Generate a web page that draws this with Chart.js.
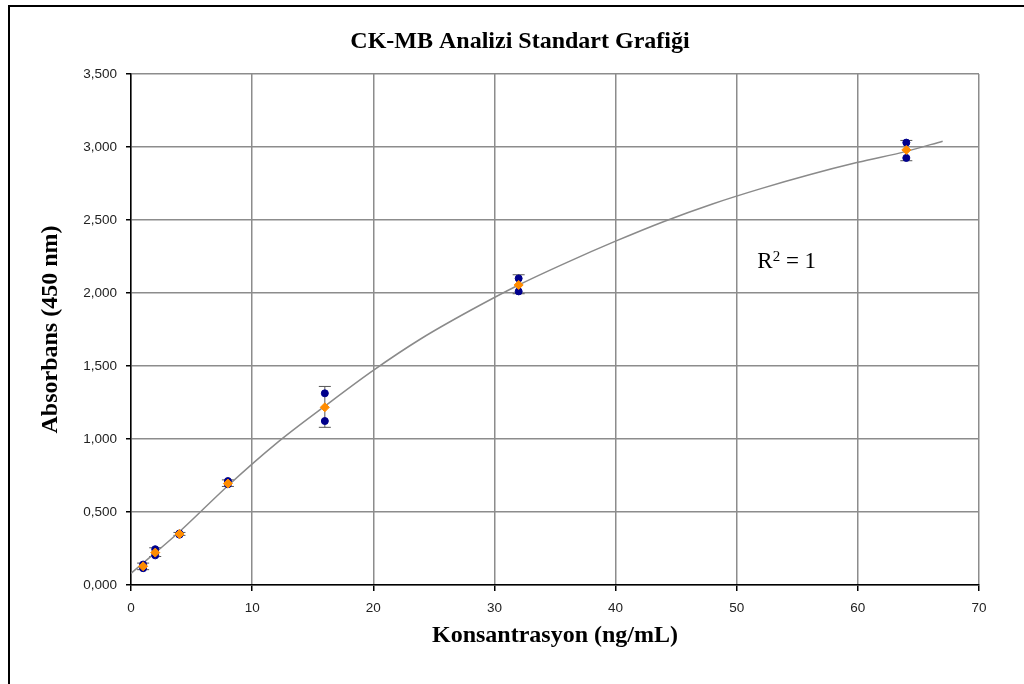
<!DOCTYPE html>
<html>
  <head>
    <meta charset="utf-8" />
    <title>CK-MB Analizi Standart Grafiği</title>
    <script src="https://cdn.jsdelivr.net/npm/chart.js"></script>
    <style>
      body { margin: 0; background: #fff; }
    </style>
  </head>
  <body>
    <canvas id="myChart" width="1024" height="684"></canvas>
    <script>
      // standart konsantrasyonlar (ng/mL)
      const konsantrasyon = [1, 2, 4, 8, 16, 32, 64];
      // iki tekrar okuma (mavi) ve ortalama (turuncu)
      const tekrar1 = [0.115, 0.203, 0.345, 0.69, 1.123, 2.011, 2.925];
      const tekrar2 = [0.14, 0.245, 0.353, 0.712, 1.313, 2.1, 3.03];
      const ortalama = [0.128, 0.222, 0.349, 0.695, 1.217, 2.055, 2.98];
      // hata cubuklari
      const hataAlt = [0.105, 0.195, 0.34, 0.675, 1.08, 1.995, 2.906];
      const hataUst = [0.15, 0.255, 0.36, 0.72, 1.36, 2.125, 3.045];
      // egri (trend line), resimden okunan noktalar
      const egriX = [0, 4, 8, 12, 16, 20, 24, 28, 32, 36, 40, 44, 48, 52, 56, 60, 64, 67];
      const egriY = [0.08, 0.365, 0.68, 0.97, 1.225, 1.47, 1.69, 1.88, 2.055, 2.21, 2.355, 2.49, 2.61, 2.715, 2.81, 2.895, 2.97, 3.04];

      const pts = (xs, ys) => xs.map((v, i) => ({ x: v, y: ys[i] }));

      const errorBars = {
        id: "errorBars",
        beforeDatasetsDraw(chart) {
          const { ctx } = chart;
          const x = chart.scales.x, y = chart.scales.y;
          ctx.save();
          ctx.strokeStyle = "#555";
          ctx.lineWidth = 1;
          konsantrasyon.forEach((k, i) => {
            const px = x.getPixelForValue(k);
            const top = y.getPixelForValue(hataUst[i]);
            const bot = y.getPixelForValue(hataAlt[i]);
            ctx.beginPath();
            ctx.moveTo(px, top); ctx.lineTo(px, bot);
            ctx.moveTo(px - 6, top); ctx.lineTo(px + 6, top);
            ctx.moveTo(px - 6, bot); ctx.lineTo(px + 6, bot);
            ctx.stroke();
          });
          ctx.restore();
        },
      };

      const frameAndText = {
        id: "frameAndText",
        beforeDraw(chart) {
          const { ctx } = chart;
          ctx.save();
          ctx.fillStyle = "#fff";
          ctx.fillRect(0, 0, chart.width, chart.height);
          ctx.strokeStyle = "#000";
          ctx.lineWidth = 2;
          ctx.strokeRect(9, 6, chart.width + 20, chart.height + 20);
          ctx.restore();
        },
        afterDraw(chart) {
          const { ctx } = chart;
          const x = chart.scales.x, y = chart.scales.y;
          ctx.save();
          ctx.fillStyle = "#000";
          ctx.textAlign = "center";
          ctx.textBaseline = "middle";
          ctx.font = "bold 24px 'Liberation Serif'";
          ctx.fillText("CK-MB Analizi Standart Grafiği", 520, 42);

          // R kare etiketi
          ctx.textAlign = "left";
          ctx.textBaseline = "alphabetic";
          let px = x.getPixelForValue(51.7);
          const py = y.getPixelForValue(2.17);
          ctx.font = "23px 'Liberation Serif'";
          ctx.fillText("R", px, py);
          px += ctx.measureText("R").width;
          ctx.font = "15px 'Liberation Serif'";
          ctx.fillText("2", px, py - 7);
          px += ctx.measureText("2").width;
          ctx.font = "23px 'Liberation Serif'";
          ctx.fillText(" = 1", px, py);
          ctx.restore();
        },
      };

      const serif = (size) => ({ family: "'Liberation Serif'", size: size, weight: "bold" });
      const sans = { family: "'Liberation Sans'", size: 13.5 };

      const config = {
        data: {
          datasets: [
            {
              type: "line",
              label: "egri",
              data: pts(egriX, egriY),
              borderColor: "#8a8a8a",
              borderWidth: 1.5,
              pointRadius: 0,
              cubicInterpolationMode: "monotone",
              order: 4,
            },
            {
              type: "scatter",
              label: "tekrar1",
              data: pts(konsantrasyon, tekrar1),
              backgroundColor: "#00008c",
              borderColor: "#00008c",
              pointRadius: 3.5,
              order: 2,
            },
            {
              type: "scatter",
              label: "tekrar2",
              data: pts(konsantrasyon, tekrar2),
              backgroundColor: "#00008c",
              borderColor: "#00008c",
              pointRadius: 3.5,
              order: 3,
            },
            {
              type: "scatter",
              label: "ortalama",
              data: pts(konsantrasyon, ortalama),
              backgroundColor: "#ff8c00",
              borderColor: "#ff8c00",
              pointStyle: "rectRot",
              pointRadius: 4.5,
              order: 1,
            },
          ],
        },
        options: {
          responsive: false,
          animation: false,
          layout: { padding: { left: 0, right: 45, top: 74, bottom: 0 } },
          plugins: {
            legend: { display: false },
            tooltip: { enabled: false },
          },
          scales: {
            x: {
              type: "linear",
              min: 0,
              max: 70,
              afterFit: (s) => { s.height = 99; },
              ticks: { stepSize: 10, padding: 9, color: "#222", font: sans },
              grid: { color: "#8c8c8c", lineWidth: 1.5, tickLength: 6, tickColor: "#000" },
              border: { color: "#000", width: 1.5 },
              title: {
                display: true,
                text: "Konsantrasyon (ng/mL)",
                color: "#000",
                font: serif(24),
                padding: { top: 0, bottom: 34 },
              },
            },
            y: {
              type: "linear",
              min: 0,
              max: 3.5,
              afterFit: (s) => { s.width = 131; },
              ticks: {
                stepSize: 0.5,
                padding: 9,
                color: "#222",
                font: sans,
                callback: (v) => v.toFixed(3).replace(".", ","),
              },
              grid: { color: "#8c8c8c", lineWidth: 1.5, tickLength: 5, tickColor: "#000" },
              border: { color: "#000", width: 1.5 },
              title: {
                display: true,
                text: "Absorbans (450 nm)",
                color: "#000",
                font: serif(24),
                padding: { top: 36, bottom: 0 },
              },
            },
          },
        },
        plugins: [errorBars, frameAndText],
      };

      const myChart = new Chart(document.getElementById("myChart"), config);
    </script>
  </body>
</html>
